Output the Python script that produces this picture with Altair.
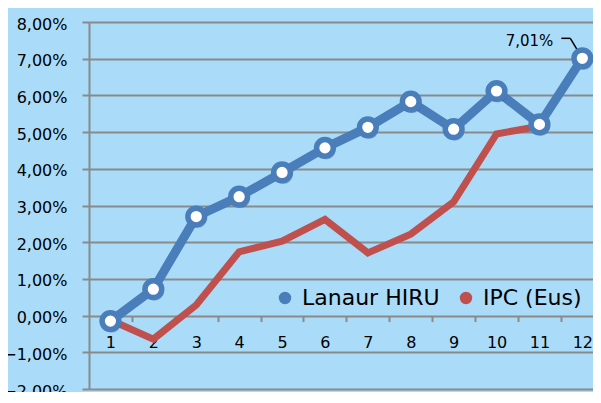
import altair as alt
import pandas as pd

months = list(range(1, 13))
hiru = [-0.15, 0.72, 2.70, 3.24, 3.90, 4.57, 5.13, 5.83, 5.08, 6.12, 5.21, 7.01]
ipc = [-0.12, -0.64, 0.29, 1.74, 2.03, 2.62, 1.71, 2.22, 3.10, 4.95, 5.16]
series_names = ["Lanaur HIRU", "IPC (Eus)"]
colors = ["#4a7ebb", "#c0504d"]
y_ticks = list(range(-2, 9))

rows = []
for m, v in zip(months, hiru):
    rows.append({"m": m, "v": v, "s": series_names[0]})
for m, v in zip(months, ipc):
    rows.append({"m": m, "v": v, "s": series_names[1]})
df = pd.DataFrame(rows)

BG = "#aadcfa"
GRAY = "#8a8a8a"
FONT = "DejaVu Sans"
W, H = 504, 367
STEP = 42.9
XMAX = 0.5 + W / STEP

xs = alt.Scale(domain=[0.5, XMAX], nice=False, zero=False)
ys = alt.Scale(domain=[-2, 8], nice=False, zero=False)

x_enc = alt.X(
    "m:Q", scale=xs, title=None,
    axis=alt.Axis(values=months, grid=False, domain=False, tickOffset=STEP / 2,
                  labelOffset=-STEP / 2, offset=-(H * 2 / 10), tickSize=6, tickWidth=2,
                  tickColor=GRAY, labelFont=FONT, labelFontSize=16, labelColor="black",
                  labelPadding=13, labelFlush=False, labelOverlap=False))
y_enc = alt.Y(
    "v:Q", scale=ys, title=None,
    axis=alt.Axis(values=y_ticks, grid=True, gridColor=GRAY, gridWidth=2, gridOpacity=1,
                  domainColor=GRAY, domainWidth=2, tickSize=7, tickWidth=2, tickColor=GRAY,
                  labelFont=FONT, labelFontSize=16, labelColor="black", labelPadding=15,
                  labelOffset=2, labelFlush=False, labelOverlap=False,
                  labelExpr="replace(format(datum.value, '.2f'), '.', ',') + '%'"))

stroke_scale = alt.Scale(domain=series_names, range=colors)

ipc_line = alt.Chart(df).transform_filter(alt.datum.s == series_names[1]).mark_line(
    strokeWidth=7, strokeJoin="miter", color=colors[1]
).encode(x=x_enc, y=y_enc)

hiru_line = alt.Chart(df).transform_filter(alt.datum.s == series_names[0]).mark_line(
    strokeWidth=9, strokeJoin="round", color=colors[0]
).encode(x=x_enc, y=y_enc)

legend_pts = alt.Chart(df).mark_point(filled=True, size=1, opacity=1, shape="circle").encode(
    x=x_enc, y=y_enc,
    fill=alt.Fill("s:N", scale=stroke_scale, sort=series_names,
                  legend=alt.Legend(title=None, orient="none", legendX=185, legendY=265,
                                    direction="horizontal", symbolType="circle",
                                    symbolSize=154, symbolStrokeWidth=0, symbolOpacity=1,
                                    labelFont=FONT, labelFontSize=22, labelColor="black",
                                    labelOffset=6, columnPadding=15, padding=0)))

last = alt.Chart(df).transform_filter(
    (alt.datum.s == series_names[0]) & (alt.datum.m == 12))

leader_h = last.mark_rule(color="black", strokeWidth=1.5, xOffset=-21, x2Offset=-12,
                          yOffset=-20, y2Offset=-20).encode(
    x=x_enc, x2="m:Q", y=y_enc, y2="v:Q")
leader_d = last.mark_rule(color="black", strokeWidth=1.5, xOffset=-12, yOffset=-20).encode(
    x=x_enc, x2="m:Q", y=y_enc, y2="v:Q")

hiru_src = alt.Chart(df).transform_filter(alt.datum.s == series_names[0])

hiru_shadow = hiru_src.mark_point(
    shape="circle", filled=True, color="#1f3f66", opacity=0.25, size=330,
    xOffset=1.5, yOffset=2.5
).encode(x=x_enc, y=y_enc)

hiru_pts = hiru_src.mark_point(
    shape="circle", filled=True, fill="white", stroke=colors[0], strokeWidth=5.5,
    size=280, opacity=1
).encode(x=x_enc, y=y_enc)

label = last.transform_calculate(
    t="replace(format(datum.v, '.2f'), '.', ',') + '%'"
).mark_text(align="right", baseline="middle", dx=-29, dy=-17, font=FONT, fontSize=15,
            color="black").encode(x=x_enc, y=y_enc, text="t:N")

chart = alt.layer(ipc_line, hiru_line, legend_pts, leader_h, leader_d, hiru_shadow,
                  hiru_pts, label).properties(
    width=W, height=H,
    autosize=alt.AutoSizeParams(type="none"),
    padding={"left": 81, "top": 14, "right": 0, "bottom": 3},
    background=BG,
).configure_view(stroke=None)

chart.save("out.html", embed_options={"renderer": "svg", "actions": False})
